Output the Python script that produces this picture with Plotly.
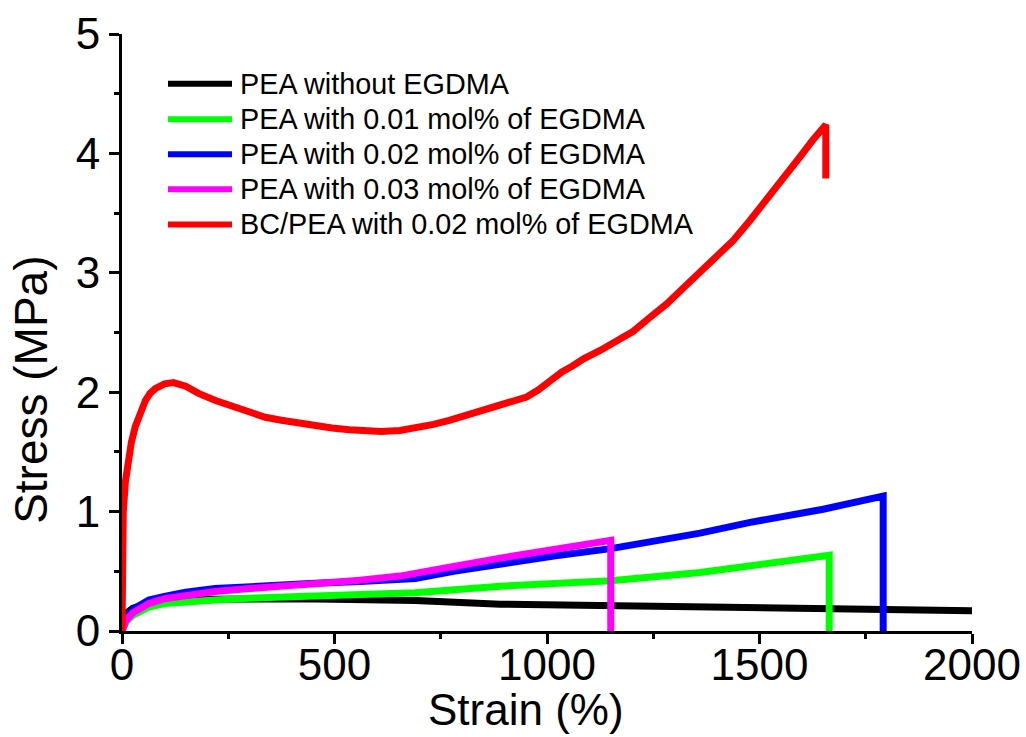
import plotly.graph_objects as go

# ---- data ----
black_x = [0, 2, 5, 10, 25, 50, 100, 200, 300, 415, 500, 654, 690, 890, 1150, 1360, 1478, 1700, 2000]
black_y = [0, 0.06, 0.10, 0.15, 0.19, 0.22, 0.245, 0.265, 0.27, 0.27, 0.265, 0.26, 0.255, 0.225, 0.21, 0.20, 0.195, 0.185, 0.17]

green_x = [0, 5, 10, 25, 45, 63, 100, 150, 219, 300, 454, 654, 690, 890, 1150, 1360, 1478, 1664, 1664]
green_y = [0, 0.04, 0.08, 0.13, 0.17, 0.20, 0.23, 0.245, 0.26, 0.275, 0.29, 0.31, 0.32, 0.375, 0.42, 0.49, 0.545, 0.635, 0]

blue_x = [0, 5, 10, 25, 45, 63, 100, 150, 219, 300, 454, 560, 654, 690, 780, 890, 1020, 1150, 1360, 1478, 1650, 1791, 1791]
blue_y = [0, 0.07, 0.12, 0.18, 0.23, 0.26, 0.29, 0.325, 0.355, 0.375, 0.40, 0.415, 0.43, 0.44, 0.50, 0.565, 0.63, 0.69, 0.82, 0.91, 1.02, 1.13, 0]

magenta_x = [0, 5, 10, 25, 45, 63, 100, 150, 219, 300, 454, 560, 654, 690, 780, 890, 1000, 1080, 1150, 1150]
magenta_y = [0, 0.05, 0.09, 0.15, 0.20, 0.23, 0.27, 0.30, 0.33, 0.355, 0.39, 0.425, 0.46, 0.48, 0.54, 0.61, 0.67, 0.715, 0.76, 0]

red_x = [0, 1, 3, 8, 15, 22, 31, 42, 55, 66, 78, 100, 121, 150, 180, 220, 259, 300, 337, 375, 415, 455, 494, 535, 572,
         610, 654, 700, 733, 770, 811, 850, 890, 920, 952, 980, 1007, 1035, 1060, 1086, 1125, 1165, 1203, 1240, 1282,
         1320, 1360, 1400, 1438, 1478, 1517, 1555, 1595, 1625, 1656, 1656]
red_y = [0, 0.5, 1.0, 1.25, 1.43, 1.58, 1.71, 1.83, 1.93, 1.99, 2.03, 2.07, 2.08, 2.05, 1.99, 1.93, 1.88, 1.83, 1.79, 1.765, 1.74,
         1.72, 1.70, 1.685, 1.675, 1.67, 1.68, 1.705, 1.73, 1.765, 1.81, 1.85, 1.89, 1.92, 1.96, 2.02, 2.10, 2.17, 2.22, 2.28,
         2.35, 2.43, 2.51, 2.62, 2.74, 2.87, 3.00, 3.13, 3.27, 3.44, 3.61, 3.79, 3.97, 4.11, 4.24, 3.79]

series_names = [
    "PEA without EGDMA",
    "PEA with 0.01 mol% of EGDMA",
    "PEA with 0.02 mol% of EGDMA",
    "PEA with 0.03 mol% of EGDMA",
    "BC/PEA with 0.02 mol% of EGDMA",
]
series_colors = ["#000000", "#00ff00", "#0000ff", "#ff00ff", "#ff0000"]

x_ticks = [0, 500, 1000, 1500, 2000]
y_ticks = [0, 1, 2, 3, 4, 5]

FONT = "Liberation Sans, Arial, Helvetica, sans-serif"

series_data = [(black_x, black_y), (green_x, green_y), (blue_x, blue_y),
               (magenta_x, magenta_y), (red_x, red_y)]

fig = go.Figure()
for (xs, ys), name, col in zip(series_data, series_names, series_colors):
    fig.add_trace(go.Scatter(x=xs, y=ys, mode="lines", name=name,
                             line=dict(color=col, width=7),
                             showlegend=False, cliponaxis=False))

# ---- legend drawn by hand (long line samples as in the reference) ----
leg_y = [0.9168, 0.857, 0.7985, 0.740, 0.681]
for yy, name, col in zip(leg_y, series_names, series_colors):
    fig.add_shape(type="line", xref="paper", yref="paper",
                  x0=0.0541, x1=0.1294, y0=yy, y1=yy,
                  line=dict(color=col, width=6))
    fig.add_annotation(xref="paper", yref="paper", x=0.137, y=yy,
                       text=name, showarrow=False, xanchor="left", yanchor="middle",
                       font=dict(family=FONT, size=28.8, color="black"))

# ---- axis titles ----
fig.add_annotation(xref="paper", yref="paper", x=0.475, y=-0.1759, text="Strain (%)",
                   showarrow=False, xanchor="center", yanchor="bottom",
                   font=dict(family=FONT, size=44, color="black"))
fig.add_annotation(xref="paper", yref="paper", x=-0.107, y=0.404, text="Stress (MPa)",
                   showarrow=False, xanchor="center", yanchor="middle", textangle=-90,
                   font=dict(family=FONT, size=46, color="black"))

axis_common = dict(
    showgrid=False, zeroline=False, showline=True, linecolor="black", linewidth=3,
    ticks="outside", ticklen=10, tickwidth=3, tickcolor="black", automargin=False,
    tickfont=dict(family=FONT, size=44, color="black"),
)

fig.update_xaxes(range=[0, 2000], tickvals=x_ticks, ticktext=[str(v) for v in x_ticks],
                 ticklabelstandoff=-17,
                 minor=dict(ticks="outside", ticklen=5, tickwidth=3, tickcolor="black", dtick=250, tick0=0),
                 **axis_common)
fig.update_yaxes(range=[0, 5], tickvals=y_ticks, ticktext=[str(v) for v in y_ticks],
                 minor=dict(ticks="outside", ticklen=5, tickwidth=3, tickcolor="black", dtick=0.5, tick0=0),
                 **axis_common)

fig.update_layout(
    width=1026, height=737,
    margin=dict(l=122, r=54, t=34, b=106),
    paper_bgcolor="white", plot_bgcolor="white",
    font=dict(family=FONT, color="black"),
)

fig.write_html("out.html")
